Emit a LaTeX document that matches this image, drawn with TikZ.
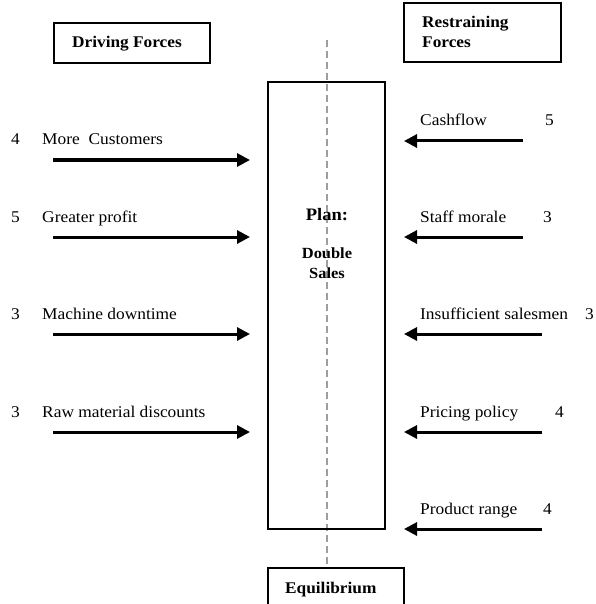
\documentclass[tikz,border=0pt]{standalone}
\usepackage{fontspec}
\setmainfont[FakeStretch=1.06]{Liberation Serif}
\usetikzlibrary{arrows.meta}
\begin{document}
\begin{tikzpicture}[x=1pt,y=-1pt,
  lbl/.style={anchor=base west,inner sep=0pt,font=\fontsize{16.4}{18}\selectfont},
  blbl/.style={anchor=base west,inner sep=0pt,font=\fontsize{16.3}{20}\selectfont\bfseries},
  framebox/.style={draw=black,line width=1.4pt},
  force/.style={line width=3pt,-{Triangle[length=13pt,width=13pt]}},
  axis/.style={draw=black!38,line width=2.4pt,dash pattern=on 7pt off 4pt}]
\useasboundingbox (0,0) rectangle (595,604);
% headers
\draw[framebox] (54,23) rectangle (210,63);
\node[blbl] (drv) at (72,48) {Driving Forces};
\draw[framebox] (404,3) rectangle (561,62);
\node[blbl] (rst1) at (422,28) {Restraining};
\node[blbl] (rst2) at (422,48) {Forces};
% dashed axis
\draw[axis] (327,40) -- (327,568);
% plan box
\draw[framebox] (268,82) rectangle (385,529);
\node[inner sep=0pt,anchor=base,font=\fontsize{17.5}{20}\selectfont\bfseries] (plan) at (327,220) {Plan:};
\node[inner sep=0pt,anchor=base,font=\fontsize{15.5}{20}\selectfont\bfseries] (dbl1) at (327,258) {Double};
\node[inner sep=0pt,anchor=base,font=\fontsize{15.5}{20}\selectfont\bfseries] (dbl2) at (327,278) {Sales};
% equilibrium
\draw[framebox] (268,610) -- (268,568) -- (404,568) -- (404,610);
\node[blbl] (eq) at (285,593) {Equilibrium};
% driving forces
\foreach \y/\n/\t [count=\i] in {145/4/More\ \ Customers, 222/5/Greater profit, 319/3/Machine downtime, 417/3/Raw material discounts}{
  \node[lbl] (dn\i) at (11,\y) {\n};
  \node[lbl] (dt\i) at (42,\y) {\t};
  \coordinate (ds\i) at (53,\y+15);
  \coordinate (de\i) at (250,\y+15);
  \draw[force] (ds\i) -- (de\i);
}
% restraining forces
\foreach \y/\t/\n/\nx/\tx [count=\i] in {126/Cashflow/5/545/523, 222/Staff morale/3/543/523, 319/Insufficient salesmen/3/585/542, 417/Pricing policy/4/555/542, 514/Product range/4/543/542}{
  \node[lbl] (rt\i) at (420,\y) {\t};
  \node[lbl] (rn\i) at (\nx,\y) {\n};
  \coordinate (rs\i) at (\tx,\y+15);
  \coordinate (re\i) at (404,\y+15);
  \draw[force] (rs\i) -- (re\i);
}
\end{tikzpicture}
\end{document}
